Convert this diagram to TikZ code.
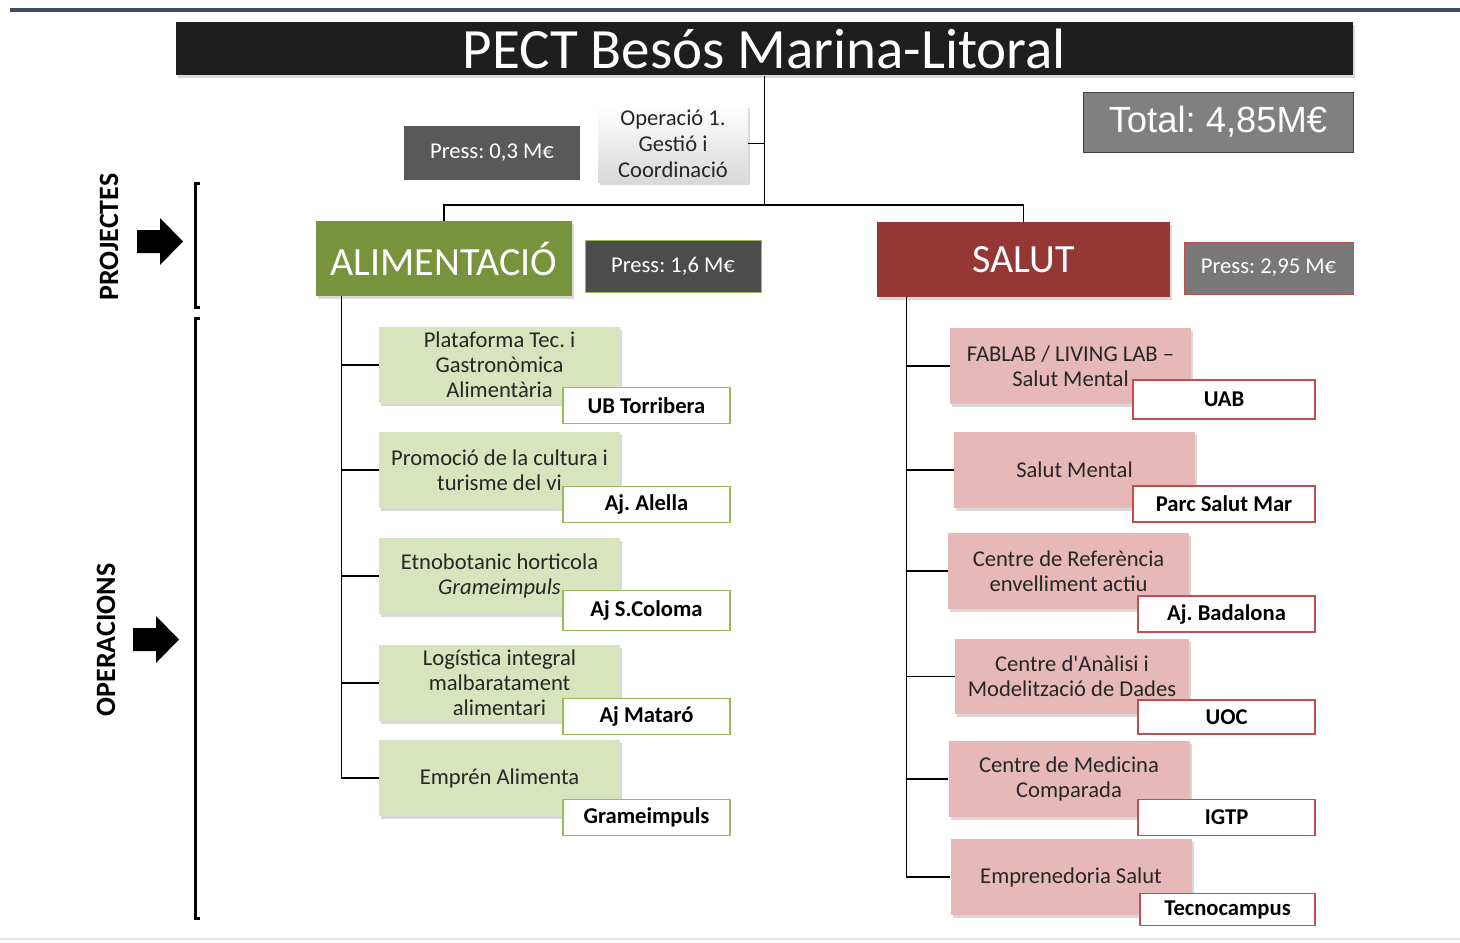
\documentclass[tikz,border=0pt]{standalone}
\usepackage{fontspec}
\setmainfont{Carlito}
\newfontfamily\arialfont{Liberation Sans}
\usetikzlibrary{shadows}
\frenchspacing
\definecolor{barblue}{RGB}{60,75,95}
\definecolor{titleblack}{RGB}{30,30,30}
\definecolor{alimgreen}{RGB}{119,147,60}
\definecolor{alimlight}{RGB}{215,228,189}
\definecolor{alimedge}{RGB}{155,187,89}
\definecolor{salutred}{RGB}{149,55,53}
\definecolor{salutlight}{RGB}{230,185,184}
\definecolor{salutedge}{RGB}{192,80,77}
\definecolor{textgray}{RGB}{38,38,38}
\begin{document}
\begin{tikzpicture}
[x=0.5pt,y=-0.5pt,
  boxshadow/.style={drop shadow={shadow xshift=1.2pt,shadow yshift=-1.5pt,opacity=0.3}},
  titledecorate/.style={fill=titleblack,text=white,minimum width=588.5pt,minimum height=26.5pt,
    font=\fontsize{28.5}{30}\selectfont,boxshadow},
  gestdecorate/.style={top color=white,bottom color=gray!30,text=textgray,minimum width=75pt,
    minimum height=38.5pt,inner sep=1pt,align=center,font=\fontsize{11.3}{13}\selectfont,boxshadow},
  pressdecorate/.style={text=white,minimum height=26pt,font=\fontsize{11.3}{13}\selectfont},
  headdecorate/.style={text=white,minimum height=37.5pt,font=\fontsize{20}{22}\selectfont,boxshadow},
  opdecorate/.style={text=textgray,minimum width=120.5pt,minimum height=38pt,inner sep=1pt,
    align=center,font=\fontsize{11.3}{12.5}\selectfont,boxshadow},
  aldecorate/.style={opdecorate,fill=alimlight},
  sadecorate/.style={opdecorate,fill=salutlight},
  labeldecorate/.style={fill=white,line width=0.6pt,minimum height=18pt,text=black,
    font=\fontsize{11.3}{13}\selectfont\bfseries},
  sidedecorate/.style={rotate=90,font=\fontsize{14}{16}\selectfont\bfseries},
  linedecorate/.style={-,line width=0.7pt}]
\useasboundingbox (0,0) rectangle (1460,942);
% frame
\draw[barblue,line width=2pt] (10,10) -- (1460,10);
\draw[gray!20,line width=1pt] (0,939) -- (1460,939);
% top nodes
\node (titol) at (764.5,48.5) [titledecorate] {PECT Besós Marina-Litoral};
\node (gestio) at (673,143.5) [gestdecorate] {Operació 1.\\Gestió i\\Coordinació};
\node (press03) at (492,153) [pressdecorate,fill=black!65,minimum width=88pt,minimum height=27pt] {Press: 0,3 M€};
\node (total) at (1218,122) [fill=black!50,draw=black!75,text=white,minimum width=135pt,
  minimum height=30pt,font=\arialfont\fontsize{18.2}{20}\selectfont] {Total: 4,85M€};
% projects
\node (alim) at (444,258.5) [headdecorate,fill=alimgreen,minimum width=128pt] {ALIMENTACIÓ};
\node (press16) at (673,266) [pressdecorate,fill=black!70,draw=alimedge,minimum width=88pt] {Press: 1,6 M€};
\node (salut) at (1023.5,259.5) [headdecorate,fill=salutred,minimum width=146.5pt] {SALUT};
\node (press295) at (1268.5,268) [pressdecorate,fill=black!53,draw=salutedge,minimum width=84.5pt] {Press: 2,95 M€};
% side marks
\node (projectes) at (109,237) [sidedecorate] {PROJECTES};
\node (operacions) at (106,640) [sidedecorate] {OPERACIONS};
\fill (137,230) -- (160,230) -- (160,218) -- (183,241.5) -- (160,265) -- (160,253) -- (137,253) -- cycle;
\fill (133,628) -- (156,628) -- (156,616) -- (179,639.5) -- (156,663) -- (156,651) -- (133,651) -- cycle;
\draw[line width=1.5pt] (200,183) -- (195,183) -- (195,307) -- (200,307);
\draw[line width=1.5pt] (200,318) -- (195,318) -- (195,918) -- (200,918);
% operations alimentacio
\node (a1) at (499.5,365) [aldecorate] {Plataforma Tec. i\\Gastronòmica\\Alimentària};
\node (a2) at (499.5,470) [aldecorate] {Promoció de la cultura i\\turisme del vi};
\node (a3) at (499.5,576) [aldecorate] {Etnobotanic horticola\\\itshape Grameimpuls};
\node (a4) at (499.5,683) [aldecorate] {Logística integral\\malbaratament\\alimentari};
\node (a5) at (499.5,778) [aldecorate] {Emprén Alimenta};
\node (la1) at (646.5,405.5) [labeldecorate,draw=alimedge,minimum width=83.5pt] {UB Torribera};
\node (la2) at (646.5,504.5) [labeldecorate,draw=alimedge,minimum width=83.5pt] {Aj. Alella};
\node (la3) at (646.5,610.5) [labeldecorate,draw=alimedge,minimum width=83.5pt,minimum height=20pt] {Aj S.Coloma};
\node (la4) at (646.5,716.5) [labeldecorate,draw=alimedge,minimum width=83.5pt] {Aj Mataró};
\node (la5) at (646.5,817.5) [labeldecorate,draw=alimedge,minimum width=83.5pt] {Grameimpuls};
% operations salut
\node (s1) at (1070.5,366) [sadecorate] {FABLAB / LIVING LAB –\\Salut Mental};
\node (s2) at (1074.5,470) [sadecorate] {Salut Mental};
\node (s3) at (1068.5,571) [sadecorate] {Centre de Referència\\envelliment actiu};
\node (s4) at (1072,676.5) [sadecorate,minimum width=117pt,minimum height=37.5pt] {Centre d\textquotesingle Anàlisi i\\Modelització de Dades};
\node (s5) at (1069,779) [sadecorate] {Centre de Medicina\\Comparada};
\node (s6) at (1071,877) [sadecorate] {Emprenedoria Salut};
\node (ls1) at (1224,399.5) [labeldecorate,draw=salutedge,minimum width=91pt,minimum height=19.5pt] {UAB};
\node (ls2) at (1224,504) [labeldecorate,draw=salutedge,minimum width=91pt] {Parc Salut Mar};
\node (ls3) at (1226.5,614) [labeldecorate,draw=salutedge,minimum width=88.5pt] {Aj. Badalona};
\node (ls4) at (1226.5,717) [labeldecorate,draw=salutedge,minimum width=88.5pt,minimum height=17pt] {UOC};
\node (ls5) at (1226.5,817.5) [labeldecorate,draw=salutedge,minimum width=88.5pt] {IGTP};
\node (ls6) at (1227.5,909.5) [labeldecorate,draw=salutedge,minimum width=87.5pt,minimum height=13.5pt] {Tecnocampus};
% edges or lines
\coordinate (nus) at (764.5,205);
\draw[linedecorate] (titol.south) -- (nus);
\draw[linedecorate] (gestio.east) -- (gestio.east -| nus);
\draw[linedecorate] (nus) -| (alim.north);
\draw[linedecorate] (nus) -| (salut.north);
\foreach \n in {a1,a2,a3,a4,a5}
  \draw[linedecorate] ([xshift=13pt]alim.south west) |- (\n.west);
\foreach \n in {s1,s2,s3,s4,s5,s6}
  \draw[linedecorate] ([xshift=15pt]salut.south west) |- (\n.west);
\end{tikzpicture}
\end{document}
